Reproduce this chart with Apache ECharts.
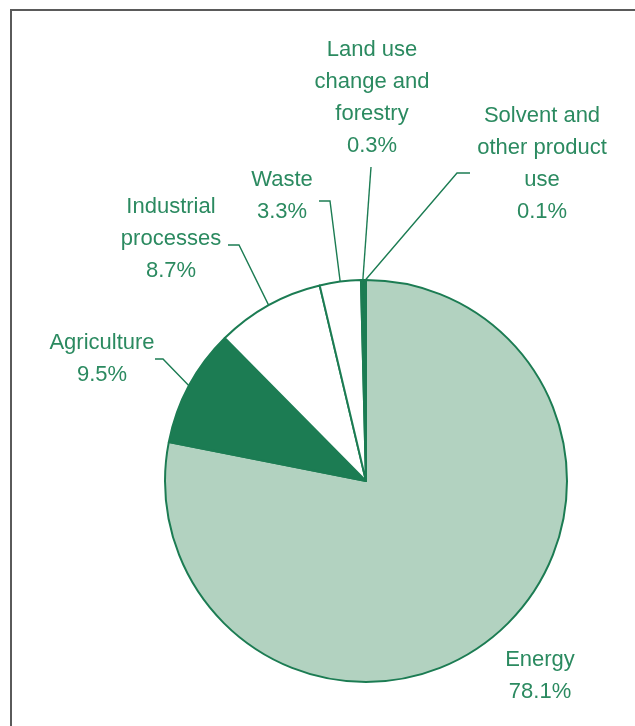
<!DOCTYPE html>
<html>
<head>
<meta charset="utf-8">
<script src="https://cdn.jsdelivr.net/npm/echarts@6/dist/echarts.min.js"></script>
<style>
  html, body { margin: 0; padding: 0; background: #fff; overflow: hidden; }
  #frame { position: absolute; left: 10px; top: 9px; width: 700px; height: 800px;
           border: 2px solid #5a5a5a; box-sizing: border-box; }
  #chart { position: absolute; left: 0; top: 0; width: 635px; height: 726px; }
</style>
</head>
<body>
<div id="frame"></div>
<div id="chart"></div>
<script>
// sources of emissions, clockwise from 12 o'clock
const categories = [
  "Energy",
  "Agriculture",
  "Industrial\nprocesses",
  "Waste",
  "Land use\nchange and\nforestry",
  "Solvent and\nother product\nuse",
];
const shares = [78.1, 9.5, 8.7, 3.3, 0.3, 0.1];

const LIGHT = "#b2d2c0";
const DARK = "#1c7c53";
const INK = "#2b8a60";
const fills = [LIGHT, DARK, "#ffffff", "#ffffff", DARK, DARK];

// label placement (center x, top y) and leader elbows/ends
const labelPos = [
  [540, 644],
  [102, 327],
  [171, 191],
  [282, 164],
  [372, 34],
  [542, 100],
];
const leaders = [
  null,
  [[163, 359], [155, 359]],
  [[239, 245], [228, 245]],
  [[330, 201], [319, 201]],
  [[371, 167]],
  [[457, 173], [470, 173]],
];

const chart = echarts.init(document.getElementById("chart"), null, { renderer: "canvas" });

const data = categories.map((name, i) => ({
  name: name,
  value: shares[i],
  itemStyle: { color: fills[i] },
  labelLine: { show: leaders[i] !== null },
}));

chart.setOption({
  animation: false,
  backgroundColor: "transparent",
  series: [
    {
      type: "pie",
      center: [366, 481],
      radius: 201,
      startAngle: 90,
      clockwise: true,
      avoidLabelOverlap: false,
      minShowLabelAngle: 0,
      data: data,
      itemStyle: { borderColor: DARK, borderWidth: 2 },
      label: {
        show: true,
        position: "outside",
        formatter: "{b}\n{c}%",
        color: INK,
        fontFamily: "'Liberation Sans', Arial, sans-serif",
        fontSize: 22,
        lineHeight: 32,
        align: "center",
      },
      labelLine: {
        show: true,
        smooth: false,
        lineStyle: { color: DARK, width: 1.4 },
      },
      labelLayout: function (p) {
        const i = p.dataIndex;
        const out = {
          x: labelPos[i][0],
          y: labelPos[i][1],
          align: "center",
          verticalAlign: "top",
        };
        if (leaders[i] && p.labelLinePoints) {
          out.labelLinePoints = [p.labelLinePoints[0]].concat(leaders[i]);
        }
        return out;
      },
      emphasis: { disabled: true },
    },
  ],
});
</script>
</body>
</html>
